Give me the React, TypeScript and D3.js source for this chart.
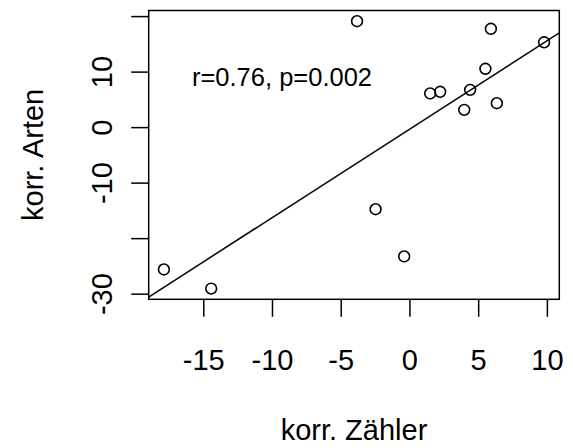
import React from "react";
import * as d3 from "d3";

// korr. Zähler (x) vs korr. Arten (y)
const zaehler = [-3.85, 5.89, 9.76, 5.49, 1.47, 2.2, 4.38, 3.95, 6.32, -2.5, -0.42, -17.9, -14.46];
const arten = [19.17, 17.8, 15.37, 10.6, 6.15, 6.45, 6.8, 3.2, 4.4, -14.7, -23.2, -25.55, -29.0];

const xTicks = [-15, -10, -5, 0, 5, 10];
const yTicks = [-30, -20, -10, 0, 10, 20];
const yTickLabels = [-30, -10, 0, 10]; // R drops the ones that would overlap

// abline(lm(arten ~ zaehler))
const fitIntercept = -0.24;
const fitSlope = 1.593;
const annotation = "r=0.76, p=0.002";

const W = 573;
const H = 448;
const plot = { left: 148.7, right: 559.3, top: 10.5, bottom: 299.3 };
const font = "'Liberation Sans', Arial, Helvetica, sans-serif";

// R-style axis range: data extent + 4% on each side
const padded = (vals: number[]) => {
  const [lo, hi] = d3.extent(vals) as [number, number];
  const p = (hi - lo) * 0.04;
  return [lo - p, hi + p];
};

export default function App() {
  const x = d3.scaleLinear().domain(padded(zaehler)).range([plot.left, plot.right]);
  const y = d3.scaleLinear().domain(padded(arten)).range([plot.bottom, plot.top]);
  const [x0, x1] = x.domain();

  return (
    <svg
      width={W}
      height={H}
      style={{ position: "absolute", left: 0, top: 0, background: "#fff" }}
      fontFamily={font}
    >
      <defs>
        <clipPath id="plotclip">
          <rect x={plot.left} y={plot.top} width={plot.right - plot.left} height={plot.bottom - plot.top} />
        </clipPath>
      </defs>

      {/* points */}
      {zaehler.map((v, i) => (
        <circle key={i} cx={x(v)} cy={y(arten[i])} r={5.4} fill="none" stroke="#000" strokeWidth={1.6} />
      ))}

      {/* regression line */}
      <line
        x1={x(x0)}
        y1={y(fitIntercept + fitSlope * x0)}
        x2={x(x1)}
        y2={y(fitIntercept + fitSlope * x1)}
        stroke="#000"
        strokeWidth={1.5}
        clipPath="url(#plotclip)"
      />

      <text x={282} y={86} fontSize={25.5} textAnchor="middle">
        {annotation}
      </text>

      {/* box */}
      <rect
        x={plot.left}
        y={plot.top}
        width={plot.right - plot.left}
        height={plot.bottom - plot.top}
        fill="none"
        stroke="#000"
        strokeWidth={1.5}
      />

      {/* x axis */}
      {xTicks.map((t) => (
        <g key={t}>
          <line x1={x(t)} x2={x(t)} y1={plot.bottom} y2={plot.bottom + 17.5} stroke="#000" strokeWidth={1.5} />
          <text x={x(t)} y={370} fontSize={29} textAnchor="middle">
            {t}
          </text>
        </g>
      ))}

      {/* y axis */}
      {yTicks.map((t) => (
        <line key={t} x1={plot.left - 17.5} x2={plot.left} y1={y(t)} y2={y(t)} stroke="#000" strokeWidth={1.5} />
      ))}
      {yTickLabels.map((t) => (
        <text key={t} transform={`translate(112,${y(t)}) rotate(-90)`} fontSize={29} textAnchor="middle">
          {t}
        </text>
      ))}

      {/* axis titles */}
      <text x={(plot.left + plot.right) / 2} y={440} fontSize={29} textAnchor="middle">
        korr. Zähler
      </text>
      <text
        transform={`translate(43,${(plot.top + plot.bottom) / 2}) rotate(-90)`}
        fontSize={29}
        textAnchor="middle"
      >
        korr. Arten
      </text>
    </svg>
  );
}
